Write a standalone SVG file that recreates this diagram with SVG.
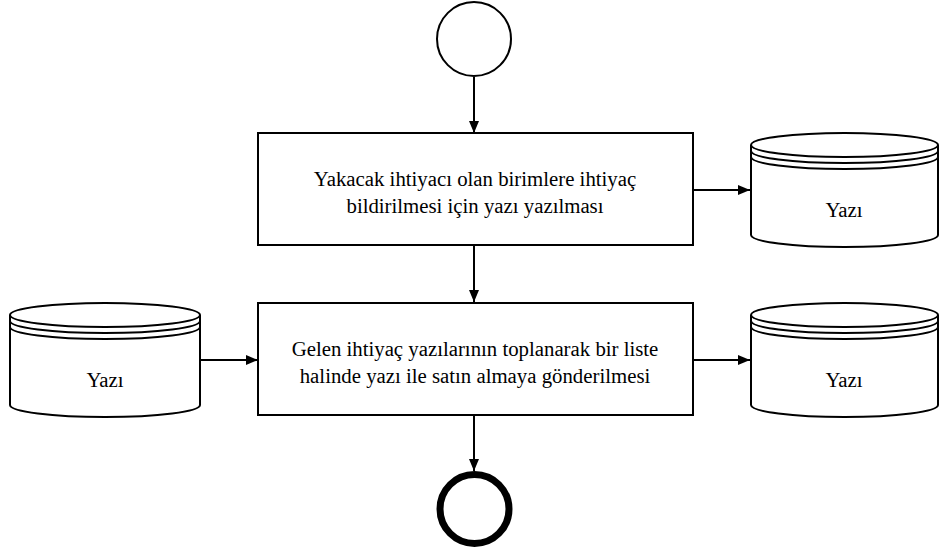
<svg xmlns="http://www.w3.org/2000/svg" width="941" height="553" viewBox="0 0 941 553">
<defs>
<marker id="arr" markerWidth="12" markerHeight="10" refX="12" refY="5" orient="auto" markerUnits="userSpaceOnUse">
<path d="M0,0 L12,5 L0,10 Z" fill="#000"/>
</marker>
<style>
.box{fill:#fff;stroke:#000;stroke-width:2}
.cyl{fill:#fff;stroke:#000;stroke-width:2}
.t{font-size:20.8px;fill:#000;text-anchor:middle}
.c{stroke:#000;stroke-width:2;fill:none;marker-end:url(#arr)}
</style>
</defs>
<rect width="941" height="553" fill="#fff"/>
<g id="connectors">
<line class="c" x1="474" y1="77" x2="474" y2="133"/>
<line class="c" x1="474" y1="246" x2="474" y2="302"/>
<line class="c" x1="474" y1="415" x2="474" y2="471"/>
<line class="c" x1="693" y1="190" x2="750" y2="190"/>
<line class="c" x1="693" y1="360" x2="750" y2="360"/>
<line class="c" x1="200" y1="360" x2="258" y2="360"/>
</g>
<g id="start"><circle cx="474" cy="39" r="37" fill="#fff" stroke="#000" stroke-width="2"/></g>
<g id="task1" font-family="Liberation Serif, Times New Roman, serif">
<rect class="box" x="258" y="133" width="435" height="112"/>
<text class="t" x="475" y="186">Yakacak ihtiyacı olan birimlere ihtiyaç</text>
<text class="t" x="475" y="213">bildirilmesi için yazı yazılması</text>
</g>
<g id="task2" font-family="Liberation Serif, Times New Roman, serif">
<rect class="box" x="258" y="303" width="435" height="112"/>
<text class="t" x="475" y="356">Gelen ihtiyaç yazılarının toplanarak bir liste</text>
<text class="t" x="475" y="383">halinde yazı ile satın almaya gönderilmesi</text>
</g>
<g id="doc1" font-family="Liberation Serif, Times New Roman, serif">
<path class="cyl" d="M751,145 A93.5,12 0 0 1 938,145 L938,235 A93.5,12 0 0 1 751,235 Z"/>
<path class="cyl" fill="none" d="M751,145 A93.5,12 0 0 0 938,145 M751,151 A93.5,12 0 0 0 938,151 M751,157 A93.5,12 0 0 0 938,157"/>
<text class="t" x="844" y="217">Yazı</text>
</g>
<g id="doc2" font-family="Liberation Serif, Times New Roman, serif">
<path class="cyl" d="M751,315 A93.5,12 0 0 1 938,315 L938,405 A93.5,12 0 0 1 751,405 Z"/>
<path class="cyl" fill="none" d="M751,315 A93.5,12 0 0 0 938,315 M751,321 A93.5,12 0 0 0 938,321 M751,327 A93.5,12 0 0 0 938,327"/>
<text class="t" x="844" y="387">Yazı</text>
</g>
<g id="doc3" font-family="Liberation Serif, Times New Roman, serif">
<path class="cyl" d="M10,315 A95,12 0 0 1 200,315 L200,405 A95,12 0 0 1 10,405 Z"/>
<path class="cyl" fill="none" d="M10,315 A95,12 0 0 0 200,315 M10,321 A95,12 0 0 0 200,321 M10,327 A95,12 0 0 0 200,327"/>
<text class="t" x="105" y="387">Yazı</text>
</g>
<g id="end"><circle cx="474.5" cy="509" r="34.5" fill="#fff" stroke="#000" stroke-width="7"/></g>
</svg>
